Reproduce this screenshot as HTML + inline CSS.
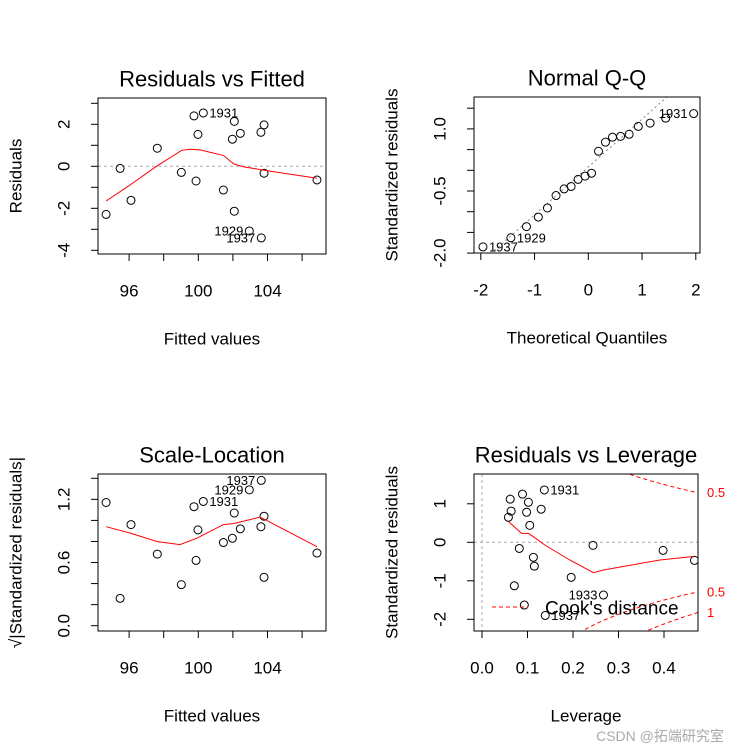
<!DOCTYPE html>
<html><head><meta charset="utf-8"><style>
html,body{margin:0;background:#fff;overflow:hidden;width:753px;height:753px}
svg{display:block;font-family:"Liberation Sans",sans-serif}
</style></head><body>
<svg id="c" width="753" height="753" viewBox="0 0 753 753"></svg>
<script>
// ---- data ----
const fitted = [94.67,95.48,96.11,97.63,99.02,99.75,100.29,99.98,99.87,101.45,101.97,102.08,102.43,102.08,102.95,103.64,103.62,103.80,103.80,106.86];
const residuals = [-2.29,-0.10,-1.62,0.86,-0.29,2.40,2.54,1.52,-0.70,-1.13,1.29,2.14,1.57,-2.14,-3.08,-3.41,1.62,1.97,-0.33,-0.65];
const smooth1X = [94.67,96.05,97.6,99.04,99.52,100.1,101.45,102.06,102.6,103.76,106.86];
const smooth1Y = [-1.65,-0.89,0.01,0.76,0.81,0.78,0.52,0.11,-0.02,-0.18,-0.57];
const qqTheo = [-1.96,-1.44,-1.15,-0.93,-0.76,-0.60,-0.45,-0.32,-0.19,-0.06,0.06,0.19,0.32,0.45,0.60,0.76,0.93,1.15,1.44,1.96];
const qqStd = [-1.85,-1.63,-1.36,-1.13,-0.91,-0.61,-0.45,-0.39,-0.22,-0.14,-0.07,0.46,0.68,0.80,0.82,0.87,1.06,1.14,1.26,1.37];
const slFit = [94.67,95.48,96.11,97.63,99.02,99.75,100.29,99.98,99.87,101.45,101.97,102.08,102.43,102.95,103.64,103.62,103.80,103.80,106.86];
const slVal = [1.17,0.26,0.96,0.68,0.39,1.13,1.18,0.91,0.62,0.79,0.83,1.07,0.92,1.29,1.38,0.94,1.04,0.46,0.69];
const smooth3X = [94.67,96.05,97.6,98.94,99.9,101.45,102.03,103.57,103.95,106.86];
const smooth3Y = [0.94,0.88,0.80,0.77,0.83,0.96,0.97,1.03,1.00,0.75];
const leverage = [0.058,0.062,0.064,0.082,0.089,0.098,0.102,0.105,0.113,0.115,0.130,0.137,0.071,0.093,0.139,0.196,0.267,0.244,0.398,0.467];
const levRes = [0.65,1.12,0.81,-0.16,1.25,0.78,1.04,0.44,-0.39,-0.62,0.86,1.36,-1.13,-1.63,-1.90,-0.91,-1.37,-0.08,-0.21,-0.47];
const smooth4X = [0.058,0.087,0.102,0.116,0.138,0.193,0.245,0.267,0.391,0.464];
const smooth4Y = [0.54,0.23,0.23,0.12,-0.07,-0.46,-0.79,-0.72,-0.46,-0.37];
const cookLevels = [0.5,1];
const fitTicks = [96,98,100,102,104,106];
const fitTickLabels = ["96","","100","","104",""];
const resTicks = [3,2,1,0,-1,-2,-3,-4];
const resTickLabels = ["","2","","0","","-2","","-4"];
const qqXTicks = [-2,-1,0,1,2];
const qqYTicks = [1.5,1,0.5,0,-0.5,-1,-1.5,-2];
const qqYTickLabels = ["","1.0","","","-0.5","","","-2.0"];
const slTicks = [1.4,1.2,1.0,0.8,0.6,0.4,0.2,0.0];
const slTickLabels = ["","1.2","","","0.6","","","0.0"];
const levXTicks = [0,0.1,0.2,0.3,0.4];
const levYTicks = [1,0,-1,-2];

const S = document.getElementById('c'), NS='http://www.w3.org/2000/svg';
function mk(tag, attrs, name, parent){
  const e=document.createElementNS(NS,tag);
  for(const k in attrs) e.setAttribute(k,attrs[k]);
  
  
  (parent||S).appendChild(e); return e;
}
function txt(x,y,s,name,opts){
  opts=opts||{};
  const a={x:x,y:y,'font-size':opts.size||17,'text-anchor':opts.anchor||'middle',fill:opts.fill||'#000','dominant-baseline':'central'};
  if(opts.rot) a.transform='rotate(-90 '+x+' '+y+')';
  const t=mk('text',a,name); t.textContent=s; return t;
}
function panel(p){
  const {L,R,T,B,xs,ys,id}=p;
  const clip=mk('clipPath',{id:'clip'+id},'clip-'+id);
  mk('rect',{x:L,y:T,width:R-L,height:B-T},'clip-rect',clip);
  const g=mk('g',{'clip-path':'url(#clip'+id+')'},'plot-area-'+id);
  p.g=g;
  mk('rect',{x:L,y:T,width:R-L,height:B-T,fill:'none',stroke:'#000','stroke-width':1},'plot-frame-'+id);
  p.xt.forEach((v,i)=>{const x=xs(v);
    mk('line',{x1:x,x2:x,y1:B,y2:B+7,stroke:'#000'},'x-tick');
    const l=p.xl?p.xl[i]:String(v); if(l) txt(x,B+37,l,'x-tick-label');});
  p.yt.forEach((v,i)=>{const y=ys(v);
    mk('line',{x1:L,x2:L-7,y1:y,y2:y,stroke:'#000'},'y-tick');
    const l=p.yl?p.yl[i]:String(v); if(l) txt(L-34,y,l,'y-tick-label',{rot:1});});
  txt((L+R)/2,T-19,p.title,'chart-title',{size:22});
  txt((L+R)/2,B+85,p.xlab,'x-axis-title');
  txt(p.ylabX,(T+B)/2,p.ylab,'y-axis-title',{rot:1});
}
function pts(p,X,Y){X.forEach((v,i)=>mk('circle',{cx:p.xs(v),cy:p.ys(Y[i]),r:4,fill:'none',stroke:'#000','stroke-width':1},'point',p.g));}
function line(p,X,Y,name,dash){
  const d=X.map((v,i)=>(i?'L':'M')+p.xs(v).toFixed(1)+' '+p.ys(Y[i]).toFixed(1)).join(' ');
  const a={d:d,fill:'none',stroke:'red','stroke-width':1};
  if(dash) a['stroke-dasharray']=dash;
  mk('path',a,name,p.g);
}
function hline(p,v,name){mk('line',{x1:p.L,x2:p.R,y1:p.ys(v),y2:p.ys(v),stroke:'#aaa','stroke-dasharray':'3 3'},name,p.g);}
function lab(p,x,y,s,anchor){txt(p.xs(x)+(anchor==='end'?-6:6),p.ys(y),s,'point-label',{size:13,anchor:anchor||'start'});}

// Panel 1
const p1={id:1,L:98,R:326,T:98,B:254,xs:v=>198.3+17.3*(v-100),ys:v=>166.3-21*v,
  xt:fitTicks,xl:fitTickLabels,yt:resTicks,yl:resTickLabels,title:'Residuals vs Fitted',xlab:'Fitted values',ylab:'Residuals',ylabX:16};
panel(p1); hline(p1,0,'zero-line'); pts(p1,fitted,residuals); line(p1,smooth1X,smooth1Y,'smooth-line');
lab(p1,fitted[6],residuals[6],'1931'); lab(p1,fitted[14],residuals[14],'1929','end'); lab(p1,fitted[15],residuals[15],'1937','end');

// Panel 2
const p2={id:2,L:474,R:700,T:97,B:253,xs:v=>588.3+53.75*v,ys:v=>170.3-41.4*v,
  xt:qqXTicks,yt:qqYTicks,yl:qqYTickLabels,title:'Normal Q-Q',xlab:'Theoretical Quantiles',ylab:'Standardized residuals',ylabX:392};
panel(p2);
const qx=[-3,3], qy=qx.map(v=>0.081+1.156*v);
mk('line',{x1:p2.xs(qx[0]),y1:p2.ys(qy[0]),x2:p2.xs(qx[1]),y2:p2.ys(qy[1]),stroke:'#888','stroke-dasharray':'2 3'},'qq-line',p2.g);
pts(p2,qqTheo,qqStd);
lab(p2,qqTheo[0],qqStd[0],'1937'); lab(p2,qqTheo[1],qqStd[1],'1929'); lab(p2,qqTheo[19],qqStd[19],'1931','end');

// Panel 3
const p3={id:3,L:98,R:326,T:474,B:631,xs:p1.xs,ys:v=>625.7-105.3*v,
  xt:fitTicks,xl:fitTickLabels,yt:slTicks,yl:slTickLabels,title:'Scale-Location',xlab:'Fitted values',ylab:'√|Standardized residuals|',ylabX:16};
panel(p3); pts(p3,slFit,slVal); line(p3,smooth3X,smooth3Y,'smooth-line');
lab(p3,slFit[6],slVal[6],'1931'); lab(p3,slFit[13],slVal[13],'1929','end'); lab(p3,slFit[14],slVal[14],'1937','end');

// Panel 4
const p4={id:4,L:474,R:698,T:474,B:631,xs:v=>482+455*v,ys:v=>542.3-38.5*v,
  xt:levXTicks,xl:['0.0','0.1','0.2','0.3','0.4'],yt:levYTicks,title:'Residuals vs Leverage',xlab:'Leverage',ylab:'Standardized residuals',ylabX:392};
panel(p4);
hline(p4,0,'zero-line');
mk('line',{x1:p4.xs(0),x2:p4.xs(0),y1:p4.T,y2:p4.B,stroke:'#aaa','stroke-dasharray':'3 3'},'zero-leverage-line',p4.g);
pts(p4,leverage,levRes); line(p4,smooth4X,smooth4Y,'smooth-line');
const hs=[]; for(let h=0.01;h<=0.5;h+=0.005) hs.push(h);
cookLevels.forEach(D=>{
  [1,-1].forEach(sg=>{
    line(p4,hs,hs.map(h=>sg*Math.sqrt(D*3*(1-h)/h)),'cooks-contour','4 3');
    const yr=p4.ys(sg*Math.sqrt(D*3*(1-0.475)/0.475));
    if(yr>p4.T&&yr<p4.B) txt(p4.R+9,yr,String(D),'cooks-label',{size:13,anchor:'start',fill:'red'});
  });
});
lab(p4,leverage[11],levRes[11],'1931'); lab(p4,leverage[14],levRes[14],'1937'); lab(p4,leverage[16],levRes[16],'1933','end');
mk('line',{x1:492,x2:528,y1:607,y2:607,stroke:'red','stroke-dasharray':'4 3'},'legend-line');
txt(545,609,"Cook's distance",'legend-label',{anchor:'start',size:19});
txt(660,736,'CSDN @拓端研究室','watermark',{size:14,fill:'#aaa'}).setAttribute('font-family','"Liberation Sans","Noto Sans CJK SC",sans-serif');
</script>
</body></html>
